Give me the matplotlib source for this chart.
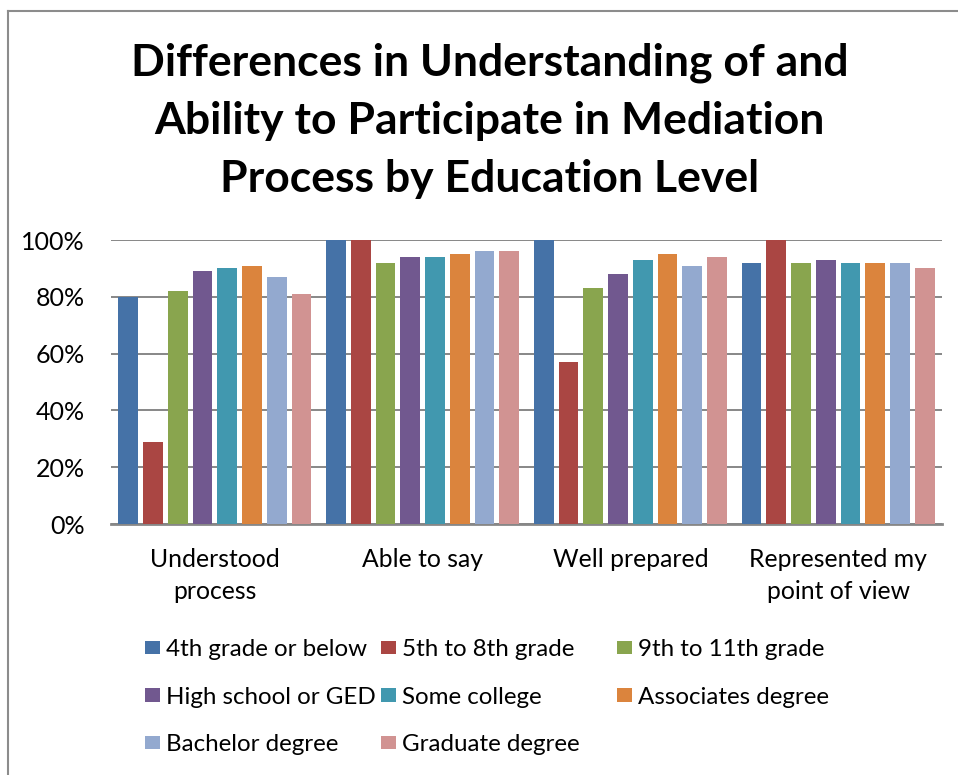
import matplotlib
matplotlib.use("Agg")
import matplotlib.pyplot as plt
from matplotlib.lines import Line2D
from matplotlib.ticker import PercentFormatter
import numpy as np

categories = ["Understood\nprocess", "Able to say", "Well prepared",
              "Represented my\npoint of view"]
levels = ["4th grade or below", "5th to 8th grade", "9th to 11th grade",
          "High school or GED", "Some college", "Associates degree",
          "Bachelor degree", "Graduate degree"]
colors = ["#4572a7", "#aa4643", "#89a54e", "#71588f",
          "#4198af", "#db843d", "#93a9cf", "#d19392"]

understood = [80, 29, 82, 89, 90, 91, 87, 81]
able_to_say = [100, 100, 92, 94, 94, 95, 96, 96]
well_prepared = [100, 57, 83, 88, 93, 95, 91, 94]
represented = [92, 100, 92, 93, 92, 92, 92, 90]

values = np.array([understood, able_to_say, well_prepared, represented])

plt.rcParams["font.family"] = ["Lato", "DejaVu Sans"]

W, H = 958, 775
fig = plt.figure(figsize=(W / 100, H / 100), dpi=100)
ax = fig.add_axes([111 / W, (H - 524) / H, 831 / W, 284 / H])

x = np.arange(len(categories))
pitch = 0.119
width = 0.095
bars = []
for i, (lvl, col) in enumerate(zip(levels, colors)):
    b = ax.bar(x + (i - 3.5) * pitch, values[:, i], width=width, color=col,
               label=lvl, zorder=3)
    bars.append(b)

ax.set_xlim(-0.5, len(categories) - 0.5)
ax.set_ylim(0, 100)
ax.set_yticks(np.arange(0, 101, 20))
ax.yaxis.set_major_formatter(PercentFormatter(decimals=0))
ax.grid(axis="y", color="#878787", linewidth=1.4, zorder=0)
ax.set_xticks(x)
ax.set_xticklabels(categories, fontsize=17.8, linespacing=1.52)
ax.tick_params(axis="x", length=0, pad=17)
ax.tick_params(axis="y", length=0, pad=19, labelsize=18)
for side in ["left", "right", "top"]:
    ax.spines[side].set_visible(False)
ax.spines["bottom"].set_color("#878787")
ax.spines["bottom"].set_linewidth(2)

fig.text(0.511, 1 - 121 / H,
         "Differences in Understanding of and\nAbility to Participate in Mediation\nProcess by Education Level",
         ha="center", va="center", fontsize=32, fontweight="bold",
         linespacing=1.54)

# legend: three equal-width columns, filled row by row
col_x = [145, 381, 617]
for c in range(3):
    idx = list(range(c, len(levels), 3))
    fig.legend([bars[k] for k in idx], [levels[k] for k in idx],
               loc="upper left", bbox_to_anchor=(col_x[c] / W, 1 - 639 / H),
               frameon=False, fontsize=17.4, handlelength=0.62,
               handleheight=0.5, handletextpad=0.25, labelspacing=1.1,
               borderpad=0, borderaxespad=0)

# chart frame
fig.add_artist(Line2D([8 / W, 8 / W], [0, 1 - 11 / H], color="#8c8c8c",
                      linewidth=1.5, transform=fig.transFigure))
fig.add_artist(Line2D([8 / W, 1], [1 - 11 / H, 1 - 11 / H], color="#8c8c8c",
                      linewidth=1.5, transform=fig.transFigure))

fig.savefig("out.png", dpi=100)
